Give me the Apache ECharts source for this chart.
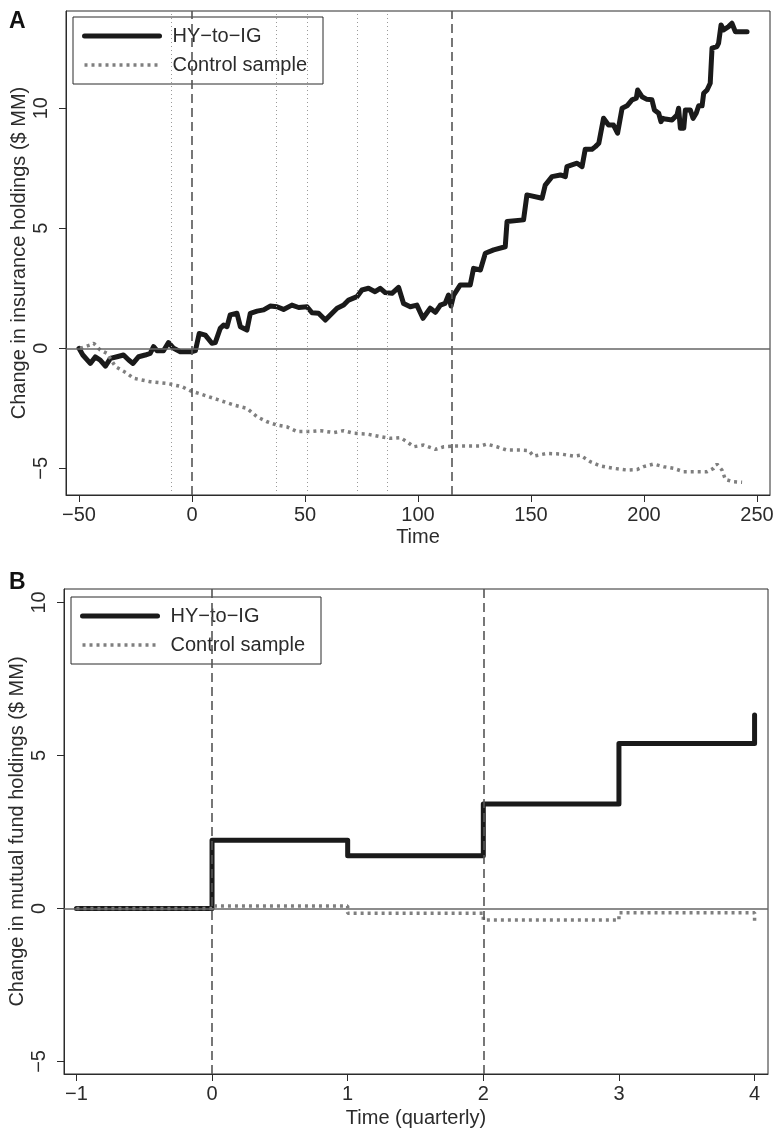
<!DOCTYPE html>
<html lang="en">
<head>
    <meta charset="UTF-8">
    <title>HY-to-IG holdings</title>
    <script src="https://cdn.jsdelivr.net/npm/echarts@6.0.0/dist/echarts.min.js"></script>
    <style>
        body { margin: 0; background: #fff; }
    </style>
</head>
<body>
<div id="chart" style="width: 775px;height: 1130px"></div>
<script type="text/javascript">
    // Panel A: insurance holdings, daily event time
    var insHyTime = [-50, -48.3, -45, -42.8, -40.6, -38.3, -36.1, -33.2, -30.3, -28, -26.1, -23.6, -20.7, -18.5, -17, -15.5,
        -12.6, -10.4, -8.1, -5.2, 0, 1.5, 3.2, 5.9, 8.8, 10.3, 12.5, 14, 15.5, 16.9, 19.9, 21.4, 24.3, 25.8, 28.8, 31.7,
        34.6, 37.6, 40.5, 44.2, 47.2, 50.9, 53.1, 56, 59, 61.2, 64.2, 67.1, 69.3, 73, 75.2, 78.1, 81, 83.3, 85.5, 88.5,
        91.4, 93.6, 96.6, 99.5, 102.2, 105.4, 107.7, 109.9, 112, 113.5, 114.6, 115.8, 118.7, 123.1, 124.6, 127.6, 129.8,
        133.5, 138.6, 139.4, 146.7, 148.2, 154.9, 156.3, 159.3, 163, 165.2, 165.9, 168.1, 170.4, 172.6, 174, 177, 178.5,
        180, 182.1, 184.3, 186.5, 188.3, 190.3, 192.5, 194.7, 196.6, 197.2, 199.1, 201.3, 203.5, 204.6, 206.5, 207.5,
        208.4, 209.4, 212.4, 214.6, 215.3, 216.1, 217.6, 218.3, 220.5, 221.7, 223.1, 224.2, 225.7, 226.4, 227.9, 229.3,
        230.1, 232.3, 233, 234.1, 235.2, 237.4, 238.9, 240.4, 243.4, 245.6];
    var insHyValue = [0, -0.28, -0.63, -0.36, -0.49, -0.74, -0.42, -0.35, -0.28, -0.49, -0.63, -0.35, -0.28, -0.21, 0.07, -0.1,
        -0.1, 0.24, 0, -0.14, -0.14, -0.1, 0.62, 0.55, 0.21, 0.24, 0.83, 0.97, 0.9, 1.39, 1.46, 0.9, 0.76, 1.46, 1.55, 1.6,
        1.76, 1.73, 1.62, 1.8, 1.7, 1.73, 1.48, 1.46, 1.18, 1.39, 1.67, 1.8, 2.01, 2.15, 2.43, 2.5, 2.36, 2.5, 2.32, 2.29,
        2.54, 1.87, 1.73, 1.8, 1.25, 1.67, 1.5, 1.8, 1.87, 2.22, 1.76, 2.22, 2.64, 2.64, 3.33, 3.26, 3.96,
        4.1, 4.23, 5.28, 5.35, 6.39, 6.25, 6.8, 7.15, 7.22, 7.15, 7.57, 7.64, 7.71, 7.57, 8.29, 8.29, 8.4,
        8.54, 9.58, 9.3, 9.3, 8.96, 10.0, 10.1, 10.35, 10.42, 10.76, 10.48, 10.37, 10.35, 9.93, 9.79, 9.44,
        9.58, 9.55, 9.51, 9.72, 10.0, 9.17, 9.17, 9.93, 9.93, 9.58, 9.79, 10.1, 10.1, 10.62, 10.76, 11.04,
        12.5, 12.57, 12.71, 13.47, 13.26, 13.4, 13.54, 13.19, 13.19, 13.19];

    var insCtrlTime = [-49.5, -45, -43.5, -40.6, -37.6, -33.9, -28.8, -25.8, -18.5, -11.1, -4.4, -0.75, 3.7, 11.1, 18.4, 24.3,
        28.8, 33.2, 37.6, 42, 46.5, 52.3, 56.8, 62.7, 67.1, 71.5, 77.4, 83.3, 87.7, 92.2, 95.1, 98.1, 102.5, 107.7, 111.4,
        115.8, 121.6, 127.6, 130.5, 134.9, 139.4, 145.3, 149, 151.1, 157, 163, 168.9, 171.8, 176.2, 180.7, 186.6, 192.5,
        196.9, 199.8, 204.2, 208.7, 213.1, 217.5, 223.4, 227.9, 230.8, 232.3, 234.5, 236, 239.6, 243.4];
    var insCtrlValue = [0, 0.14, 0.21, -0.07, -0.21, -0.76, -1.04, -1.25, -1.39, -1.46, -1.6, -1.77, -1.9, -2.13, -2.36, -2.5,
        -2.85, -3.06, -3.2, -3.27, -3.47, -3.47, -3.43, -3.51, -3.43, -3.54, -3.57, -3.68, -3.75, -3.72, -3.89, -4.1, -4.03, -4.21, -4.1,
        -4.07, -4.07, -4.07, -3.99, -4.1, -4.24, -4.24, -4.26, -4.49, -4.38, -4.4, -4.49, -4.45, -4.72, -4.9, -5.0, -5.07,
        -5.05, -4.93, -4.82, -4.93, -5.0, -5.14, -5.14, -5.14, -5.0, -4.82, -5.07, -5.46, -5.56, -5.58];

    var insXTicks = [-50, 0, 50, 100, 150, 200, 250];
    var insYTicks = [-5, 0, 5, 10];
    var insEventLines = [0, 115];                  // dashed
    var insMinorLines = [-9, 37.2, 51, 73.3, 86.3]; // dotted

    // Panel B: mutual fund holdings, quarterly
    var mfTime = [-1, 0, 1, 2, 3, 4];
    var mfHyValue = [0, 2.23, 1.72, 3.41, 5.39, 6.32];
    var mfCtrlValue = [0, 0.08, -0.16, -0.38, -0.14, -0.42];

    var mfXTicks = [-1, 0, 1, 2, 3, 4];
    var mfYTicks = [-5, 0, 5, 10];
    var mfEventLines = [0, 2];

    var seriesNames = ['HY\u2212to\u2212IG', 'Control sample'];

    var FONT = '"Liberation Sans", Arial, Helvetica, sans-serif';
    var INK = '#2b2b2b';
    var FS = 20;

    var hyStyle = {color: '#1a1a1a', width: 5, cap: 'round', join: 'round'};
    var ctrlStyle = {color: '#7f7f7f', width: 3.5, type: [3, 4], cap: 'butt'};

    function zip(xs, ys) {
        return xs.map(function (x, i) { return [x, ys[i]]; });
    }

    function minus(v) {
        return String(v).replace('-', '\u2212');
    }

    function vLine(x, dash, color, width) {
        return {xAxis: x, lineStyle: {type: dash, color: color, width: width}};
    }

    function xAxisFor(gridIndex, min, max, ticks, name, gap) {
        return {
            type: 'value', gridIndex: gridIndex, min: min, max: max,
            name: name, nameLocation: 'middle', nameGap: gap, nameMoveOverlap: false,
            nameTextStyle: {fontFamily: FONT, fontSize: FS, color: INK},
            axisLine: {show: true, onZero: false, lineStyle: {color: INK, width: 1}},
            axisTick: {show: true, length: 7, customValues: ticks, lineStyle: {color: INK, width: 1}},
            axisLabel: {customValues: ticks, margin: 10, fontFamily: FONT, fontSize: FS, color: INK, formatter: minus},
            splitLine: {show: false}
        };
    }

    function yAxisFor(gridIndex, min, max, ticks, name) {
        return {
            type: 'value', gridIndex: gridIndex, min: min, max: max,
            name: name, nameLocation: 'middle', nameRotate: 90, nameGap: 37, nameMoveOverlap: false,
            nameTextStyle: {fontFamily: FONT, fontSize: FS, color: INK},
            axisLine: {show: true, onZero: false, lineStyle: {color: INK, width: 1}},
            axisTick: {show: true, length: 7, customValues: ticks, lineStyle: {color: INK, width: 1}},
            axisLabel: {customValues: ticks, rotate: 90, margin: 15, fontFamily: FONT, fontSize: FS, color: INK, formatter: minus},
            splitLine: {show: false}
        };
    }

    function legendAt(left, top) {
        return {
            orient: 'vertical', left: left, top: top,
            data: [
                {name: seriesNames[0], lineStyle: hyStyle},
                {name: seriesNames[1], lineStyle: ctrlStyle}
            ],
            itemWidth: 75, itemHeight: 14, itemGap: 7,
            padding: [8, 16, 8, 9],
            borderColor: INK, borderWidth: 1,
            itemStyle: {opacity: 0},
            textStyle: {fontFamily: FONT, fontSize: FS, color: INK, lineHeight: 22, padding: [0, 0, 0, 8]},
            selectedMode: false
        };
    }

    var echart = echarts.init(document.getElementById('chart'));

    var options = {
        animation: false,
        title: [
            {text: 'A', left: 4, top: 5, textStyle: {fontFamily: FONT, fontSize: 23, fontWeight: 'bold', color: '#111'}},
            {text: 'B', left: 4, top: 566, textStyle: {fontFamily: FONT, fontSize: 23, fontWeight: 'bold', color: '#111'}}
        ],
        legend: [legendAt(73, 17), legendAt(71, 597)],
        grid: [
            {left: 66, top: 11, width: 704, height: 484, show: true, borderColor: INK, borderWidth: 1, outerBoundsMode: 'none'},
            {left: 64, top: 589, width: 704, height: 485, show: true, borderColor: INK, borderWidth: 1, outerBoundsMode: 'none'}
        ],
        xAxis: [
            xAxisFor(0, -55.75, 255.75, insXTicks, 'Time', 32),
            xAxisFor(1, -1.0915, 4.099, mfXTicks, 'Time (quarterly)', 34)
        ],
        yAxis: [
            yAxisFor(0, -6.11, 14.05, insYTicks, 'Change in insurance holdings ($ MM)'),
            yAxisFor(1, -5.41, 10.44, mfYTicks, 'Change in mutual fund holdings ($ MM)')
        ],
        series: [
            {
                // reference lines, panel A
                type: 'line', xAxisIndex: 0, yAxisIndex: 0, data: [], z: 1,
                markLine: {
                    silent: true, symbol: ['none', 'none'], label: {show: false},
                    data: insMinorLines.map(function (x) { return vLine(x, [1, 3], '#9a9a9a', 1); })
                        .concat(insEventLines.map(function (x) { return vLine(x, [9, 5], '#555', 1.6); }))
                        .concat([{yAxis: 0, lineStyle: {type: 'solid', color: '#666', width: 1.5}}])
                }
            },
            {
                name: seriesNames[0], type: 'line', xAxisIndex: 0, yAxisIndex: 0, z: 3,
                symbol: 'none', lineStyle: hyStyle, itemStyle: {color: hyStyle.color},
                data: zip(insHyTime, insHyValue)
            },
            {
                name: seriesNames[1], type: 'line', xAxisIndex: 0, yAxisIndex: 0, z: 4,
                symbol: 'none', lineStyle: ctrlStyle, itemStyle: {color: ctrlStyle.color},
                data: zip(insCtrlTime, insCtrlValue)
            },
            {
                // reference lines, panel B
                type: 'line', xAxisIndex: 1, yAxisIndex: 1, data: [], z: 1,
                markLine: {
                    silent: true, symbol: ['none', 'none'], label: {show: false},
                    data: mfEventLines.map(function (x) { return vLine(x, [9, 5], '#555', 1.6); })
                        .concat([{yAxis: 0, lineStyle: {type: 'solid', color: '#666', width: 1.5}}])
                }
            },
            {
                name: seriesNames[0], type: 'line', xAxisIndex: 1, yAxisIndex: 1, z: 3,
                step: 'end', symbol: 'none', lineStyle: hyStyle, itemStyle: {color: hyStyle.color},
                data: zip(mfTime, mfHyValue)
            },
            {
                name: seriesNames[1], type: 'line', xAxisIndex: 1, yAxisIndex: 1, z: 4,
                step: 'end', symbol: 'none', lineStyle: ctrlStyle, itemStyle: {color: ctrlStyle.color},
                data: zip(mfTime, mfCtrlValue)
            }
        ]
    };
    echart.setOption(options);
</script>
</body>
</html>
